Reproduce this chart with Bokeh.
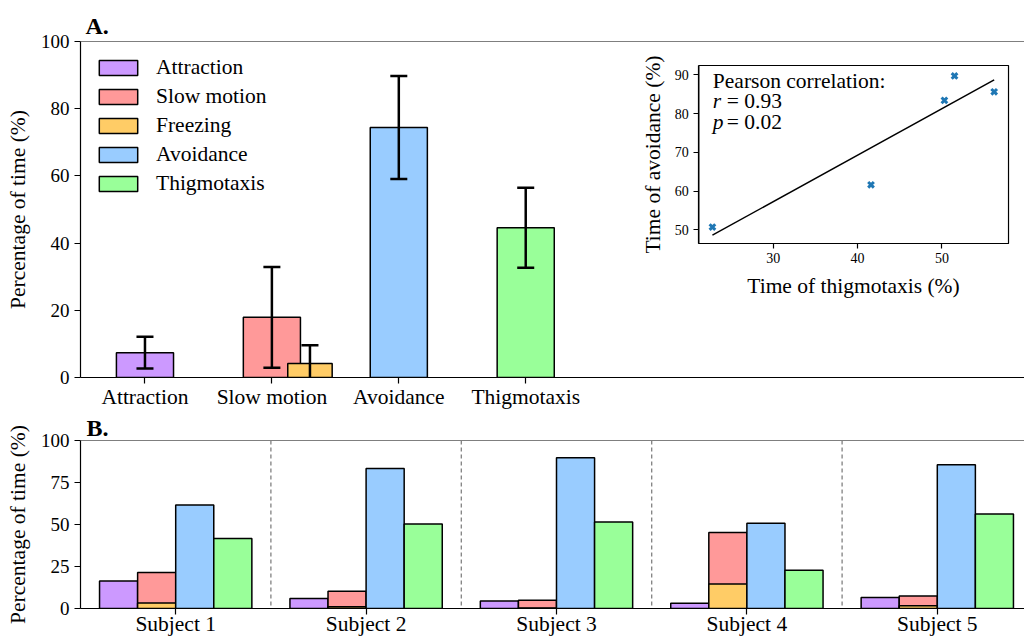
import numpy as np
from bokeh.plotting import figure
from bokeh.models import (Range1d, LinearAxis, FixedTicker, Span, Title, Legend, LegendItem)
from bokeh.layouts import column
from bokeh.embed import file_html
from bokeh.resources import INLINE
from bokeh.core.properties import value

# ---------------- data ----------------
behaviours = ["Attraction", "Slow motion", "Freezing", "Avoidance", "Thigmotaxis"]
behaviour_colors = ["#cc99ff", "#ff9999", "#ffcc66", "#99ccff", "#99ff99"]

# Panel A: mean over subjects with std
mean_categories = ["Attraction", "Slow motion", "Avoidance", "Thigmotaxis"]
mean_values = [7.4, 17.9, 74.4, 44.6]
mean_errors = [4.7, 15.0, 15.3, 11.9]
freezing_mean = [4.2]
freezing_error = [5.4]

# Panel B: per subject
subjects = ["Subject 1", "Subject 2", "Subject 3", "Subject 4", "Subject 5"]
attraction = [16.4, 5.9, 4.5, 3.1, 6.5]
slow_motion = [21.4, 10.3, 4.9, 45.3, 7.5]
freezing = [3.3, 1.0, 0.3, 14.6, 1.6]
avoidance = [61.6, 83.4, 89.7, 50.7, 85.6]
thigmotaxis = [41.6, 50.3, 51.5, 22.8, 56.2]

# Inset: regression line end points
fit_x = [22.8, 56.2]
fit_y = [48.6, 88.7]
pearson_lines = ["Pearson correlation:", "= 0.93", "= 0.02"]
pearson_symbols = ["r", "p"]

FONT = "Liberation Serif"
FS = "21.5px"
TFS = "19px"


def style_axis(ax, tick_size=TFS, label_size=FS):
    ax.axis_line_color = "black"
    ax.axis_line_width = 1.2
    ax.major_tick_line_color = "black"
    ax.major_tick_line_width = 1.2
    ax.major_tick_out = 6
    ax.major_tick_in = 0
    ax.minor_tick_line_color = None
    ax.major_label_text_font = FONT
    ax.major_label_text_font_size = tick_size
    ax.major_label_text_color = "black"
    ax.axis_label_text_font = FONT
    ax.axis_label_text_font_size = label_size
    ax.axis_label_text_font_style = "normal"
    ax.axis_label_text_color = "black"


# ---------------- Panel A ----------------
pA = figure(width=1024, height=411, x_range=Range1d(-0.508, 6.93), y_range=Range1d(0, 100),
            output_backend="svg", toolbar_location=None,
            min_border_left=79, min_border_right=0, min_border_top=41, min_border_bottom=30,
            outline_line_color=None, background_fill_color="white", border_fill_color="white")
pA.xgrid.visible = False
pA.ygrid.visible = False

style_axis(pA.xaxis[0], tick_size=FS)
style_axis(pA.yaxis[0])
pA.yaxis[0].ticker = FixedTicker(ticks=[0, 20, 40, 60, 80, 100])
pA.yaxis[0].axis_label = "Percentage of time (%)"
pA.yaxis[0].major_label_standoff = 5
pA.yaxis[0].axis_label_standoff = 8
pA.xaxis[0].ticker = FixedTicker(ticks=list(range(len(mean_categories))))
pA.xaxis[0].major_label_overrides = {i: c for i, c in enumerate(mean_categories)}
pA.xaxis[0].major_label_standoff = 1

pA.add_layout(Span(location=100, dimension="width", line_color="black", line_width=1.2))

bar_w = 0.45
cap = 0.067
renderers = {}
for i, (cat, m, e) in enumerate(zip(mean_categories, mean_values, mean_errors)):
    col = behaviour_colors[behaviours.index(cat)]
    r = pA.vbar(x=[i], top=[m], bottom=0, width=bar_w, fill_color=col,
                line_color="black", line_width=1.5)
    renderers[cat] = r
    pA.segment(x0=[i], y0=[m - e], x1=[i], y1=[m + e], line_color="black", line_width=2.5)
    pA.segment(x0=[i - cap, i - cap], y0=[m - e, m + e], x1=[i + cap, i + cap],
               y1=[m - e, m + e], line_color="black", line_width=2.5)

fx = mean_categories.index("Slow motion") + 0.3
rf = pA.vbar(x=[fx], top=freezing_mean, bottom=0, width=0.35,
             fill_color=behaviour_colors[2], line_color="black", line_width=1.5)
renderers["Freezing"] = rf
fm, fe = freezing_mean[0], freezing_error[0]
pA.segment(x0=[fx], y0=[fm - fe], x1=[fx], y1=[fm + fe], line_color="black", line_width=2.5)
pA.segment(x0=[fx - cap, fx - cap], y0=[fm - fe, fm + fe], x1=[fx + cap, fx + cap],
           y1=[fm - fe, fm + fe], line_color="black", line_width=2.5)

legend = Legend(items=[LegendItem(label=b, renderers=[renderers[b]]) for b in behaviours],
                location="top_left")
legend.label_text_font = FONT
legend.label_text_font_size = FS
legend.label_text_color = "black"
legend.glyph_width = 48
legend.glyph_height = 19
legend.label_standoff = 14
legend.spacing = 4
legend.padding = 0
legend.margin = 14
legend.border_line_color = None
legend.background_fill_alpha = 0
pA.add_layout(legend)

pA.title = Title(text="A.", align="left", offset=5, standoff=6, text_font=FONT,
                 text_font_size="24px", text_font_style="bold", text_color="black")

# ---- inset (drawn through extra ranges mapped onto a sub-rectangle) ----
frame_l, frame_r, frame_t, frame_b = 79, 1024, 41, 377
in_l, in_r, in_t, in_b = 698, 1008, 65, 243
ix_lo, ix_hi = 21.19, 57.9
iy_lo, iy_hi = 46.46, 92.4
ppx = (in_r - in_l) / (ix_hi - ix_lo)
ppy = (in_b - in_t) / (iy_hi - iy_lo)
pA.extra_x_ranges = {"ix": Range1d(ix_lo - (in_l - frame_l) / ppx, ix_hi + (frame_r - in_r) / ppx)}
pA.extra_y_ranges = {"iy": Range1d(iy_lo - (frame_b - in_b) / ppy, iy_hi + (in_t - frame_t) / ppy)}

pA.quad(left=[ix_lo], right=[ix_hi], bottom=[iy_lo], top=[iy_hi], fill_color="white",
        line_color="black", line_width=1.2, x_range_name="ix", y_range_name="iy")
pA.line(x=fit_x, y=fit_y, line_color="black", line_width=1.5,
        x_range_name="ix", y_range_name="iy")
pA.scatter(x=thigmotaxis, y=avoidance, marker="x", size=8, line_width=3,
           line_color="#1f77b4", x_range_name="ix", y_range_name="iy")

ax_ix = LinearAxis(x_range_name="ix", y_range_name="iy", fixed_location=iy_lo,
                   bounds=(ix_lo, ix_hi), ticker=FixedTicker(ticks=[30, 40, 50]),
                   axis_label="Time of thigmotaxis (%)")
style_axis(ax_ix, tick_size="14px", label_size=FS)
ax_ix.major_tick_out = 5
ax_ix.major_label_standoff = 4
ax_ix.axis_label_standoff = 8
pA.add_layout(ax_ix, "below")

ax_iy = LinearAxis(x_range_name="ix", y_range_name="iy", fixed_location=ix_lo,
                   bounds=(iy_lo, iy_hi), ticker=FixedTicker(ticks=[50, 60, 70, 80, 90]),
                   axis_label="Time of avoidance (%)")
style_axis(ax_iy, tick_size="14px", label_size=FS)
ax_iy.major_tick_out = 5
ax_iy.major_label_standoff = 5
ax_iy.axis_label_standoff = 7
pA.add_layout(ax_iy, "left")

tx = [ix_lo]
PFS = "21.5px"
pA.text(x=tx, y=[iy_hi], text=[pearson_lines[0]], x_offset=14, y_offset=15,
        text_font=value(FONT), text_font_size=PFS, text_baseline="alphabetic",
        text_color="black", x_range_name="ix", y_range_name="iy")
for k, (sym, rest) in enumerate(zip(pearson_symbols, pearson_lines[1:])):
    yo = 15 + 20.7 * (k + 1)
    pA.text(x=tx, y=[iy_hi], text=[sym], x_offset=14, y_offset=yo,
            text_font=value(FONT), text_font_size=PFS, text_font_style="italic",
            text_baseline="alphabetic", text_color="black", x_range_name="ix", y_range_name="iy")
    pA.text(x=tx, y=[iy_hi], text=[rest], x_offset=28, y_offset=yo,
            text_font=value(FONT), text_font_size=PFS, text_baseline="alphabetic",
            text_color="black", x_range_name="ix", y_range_name="iy")

# ---------------- Panel B ----------------
pB = figure(width=1024, height=227, x_range=Range1d(-0.5, 4.458), y_range=Range1d(0, 100),
            output_backend="svg", toolbar_location=None,
            min_border_left=80, min_border_right=0, min_border_top=29, min_border_bottom=28,
            outline_line_color=None, background_fill_color="white", border_fill_color="white")
pB.xgrid.visible = False
pB.ygrid.visible = False
style_axis(pB.xaxis[0], tick_size=FS)
style_axis(pB.yaxis[0])
pB.yaxis[0].ticker = FixedTicker(ticks=[0, 25, 50, 75, 100])
pB.yaxis[0].axis_label = "Percentage of time (%)"
pB.yaxis[0].major_label_standoff = 5
pB.yaxis[0].axis_label_standoff = 8
pB.xaxis[0].ticker = FixedTicker(ticks=list(range(len(subjects))))
pB.xaxis[0].major_label_overrides = {i: s for i, s in enumerate(subjects)}
pB.xaxis[0].major_label_standoff = -3

pB.add_layout(Span(location=100, dimension="width", line_color="black", line_width=1.2))
for k in range(len(subjects) - 1):
    pB.add_layout(Span(location=k + 0.5, dimension="height", line_color="#808080",
                       line_width=1.3, line_dash="4 3"))

w = 0.2
xs = np.arange(len(subjects))
series = [(attraction, -1.5, 0), (slow_motion, -0.5, 1), (freezing, -0.5, 2),
          (avoidance, 0.5, 3), (thigmotaxis, 1.5, 4)]
for vals, off, ci in series:
    pB.vbar(x=xs + off * w, top=vals, bottom=0, width=w, fill_color=behaviour_colors[ci],
            line_color="black", line_width=1.5)

pB.title = Title(text="B.", align="left", offset=6, standoff=0, text_font=FONT,
                 text_font_size="24px", text_font_style="bold", text_color="black")

layout = column(pA, pB, spacing=0)
open("out.html", "w").write(file_html(layout, INLINE))
